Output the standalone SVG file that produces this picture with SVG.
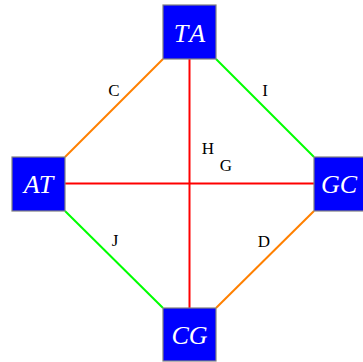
<svg xmlns="http://www.w3.org/2000/svg" width="363" height="362" viewBox="0 0 363 362">
<style>
.node rect{fill:#0000ff;stroke:#808080;stroke-width:1.2}
.node text{fill:#fff;font-family:"Liberation Serif",serif;font-style:italic;font-size:26px;text-anchor:middle;dominant-baseline:central}
.edge{stroke-width:2;fill:none}
.lbl{font-family:"Liberation Serif",serif;font-size:17px;fill:#000;text-anchor:middle;dominant-baseline:central}
</style>
<rect width="363" height="362" fill="#fff"/>
<g id="connectors">
<line class="edge" stroke="#ff8000" x1="163" y1="59" x2="65" y2="157"/>
<line class="edge" stroke="#00ff00" x1="216" y1="59" x2="314" y2="157"/>
<line class="edge" stroke="#00ff00" x1="65" y1="211" x2="163" y2="308"/>
<line class="edge" stroke="#ff8000" x1="314" y1="211" x2="216" y2="308"/>
<line class="edge" stroke="#ff0000" x1="65" y1="183.5" x2="314" y2="183.5"/>
<line class="edge" stroke="#ff0000" x1="189.5" y1="59" x2="189.5" y2="308"/>
<text class="lbl" x="114" y="90">C</text>
<text class="lbl" x="265" y="90">I</text>
<text class="lbl" x="115" y="240">J</text>
<text class="lbl" x="264" y="241">D</text>
<text class="lbl" x="208" y="148">H</text>
<text class="lbl" x="226" y="165">G</text>
</g>
<g id="TA" class="node"><rect x="163" y="5" width="53" height="54"/><text x="191" y="33" letter-spacing="3">TA</text></g>
<g id="AT" class="node"><rect x="12" y="157" width="53" height="54"/><text x="38.5" y="184">AT</text></g>
<g id="GC" class="node"><rect x="314" y="157" width="53" height="54"/><text x="339" y="184">GC</text></g>
<g id="CG" class="node"><rect x="163" y="308" width="53" height="53"/><text x="189.5" y="335">CG</text></g>
</svg>
